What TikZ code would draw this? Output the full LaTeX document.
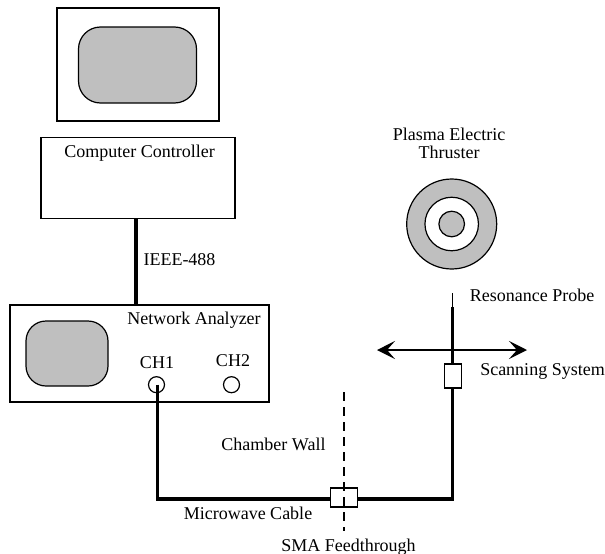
\documentclass[tikz,border=0pt]{standalone}
\usepackage{fontspec}
\setmainfont{Liberation Serif}
\usetikzlibrary{arrows.meta}
\tikzset{
  labl/.style={font=\fontsize{18}{18}\selectfont, inner sep=0pt, align=center},
  linelabl/.style={labl, anchor=base},
  unitbox/.style={rectangle, draw, line width=1.2pt, inner sep=0pt},
  scrn/.style={rectangle, draw, line width=1.2pt, fill=black!25, inner sep=0pt},
  port/.style={circle, draw, line width=1.2pt, inner sep=0pt, minimum size=16pt},
  ring/.style={circle, draw, line width=1.2pt, inner sep=0pt},
  cable/.style={line width=3.4pt},
  bus/.style={line width=4.6pt}
}

\begin{document}
\begin{tikzpicture}[x=1pt, y=-1pt, >={Stealth[length=18pt,width=18pt,inset=8pt]}]
      \useasboundingbox (0,0) rectangle (605,554);
      % monitor and controller
      \node[unitbox, minimum width=162pt, minimum height=113pt] (monitor) at (138,64.5) {};
      \node[scrn, rounded corners=22pt, minimum width=118pt, minimum height=76pt] (mscreen) at (137.5,65) {};
      \node[unitbox, minimum width=194pt, minimum height=81pt] (computer) at (138,178) {};
      \node[linelabl] (computerl) at (139.5,157) {Computer Controller};
      % analyzer
      \node[unitbox, minimum width=259pt, minimum height=97pt] (analyzer) at (139.5,353.5) {};
      \node[scrn, rounded corners=20pt, minimum width=82pt, minimum height=65pt] (ascreen) at (67,353.5) {};
      \node[linelabl] (analyzerl) at (194,324) {Network Analyzer};
      \node[port] (ch1) at (156.5,384.7) {};
      \node[port] (ch2) at (231.5,384.7) {};
      \node[linelabl] (ch1l) at (157,368.3) {CH1};
      \node[linelabl] (ch2l) at (233,366.3) {CH2};
      \coordinate (bustop) at (136,218.5);
      \coordinate (busbot) at (136,305);
      \draw[bus] (bustop) -- (busbot);
      \node[linelabl] (busl) at (179.5,265) {IEEE-488};
      % thruster
      \node[ring, fill=black!25, minimum size=90pt] (outer) at (451.7,224) {};
      \node[ring, fill=white, minimum size=53.5pt] (middle) at (451.7,224) {};
      \node[ring, fill=black!25, minimum size=25.6pt] (inner) at (451.7,224) {};
      \node[labl] (thrusterl) at (449,143) {Plasma Electric\\Thruster};
      % probe line
      \node[unitbox, fill=white, minimum width=17pt, minimum height=24pt] (carrier) at (452.7,376) {};
      \node[unitbox, fill=white, minimum width=27.5pt, minimum height=19pt] (feed) at (344,497.5) {};
      \coordinate (feedin) at (330.2,499);
      \coordinate (feedout) at (357.8,499);
      \coordinate (stem) at (452.7,307);
      \coordinate (tip) at (452.7,293);
      \draw[cable] ([xshift=1pt]ch1.center) |- (feedin);
      \draw[cable] (feedout) -| (carrier.south);
      \draw[cable] (carrier.north) -- (stem);
      \draw[line width=0.7pt] (stem) -- (tip);
      \coordinate (scanl) at (377,350);
      \coordinate (scanr) at (527,350);
      \draw[<->, line width=1.5pt] (scanl) -- (scanr);
      % wall
      \coordinate (walltop) at (344,392);
      \coordinate (wallbot) at (344,531);
      \draw[line width=1.2pt, dash pattern=on 9pt off 6pt] (walltop) -- (wallbot);
      \node[linelabl] (probel) at (532,301) {Resonance Probe};
      \node[linelabl] (scanl2) at (542.5,375) {Scanning System};
      \node[linelabl] (walll) at (273.5,450) {Chamber Wall};
      \node[linelabl] (cablel) at (248,519) {Microwave Cable};
      \node[linelabl] (feedl) at (348.5,551) {SMA Feedthrough};
    \end{tikzpicture}
\end{document}
